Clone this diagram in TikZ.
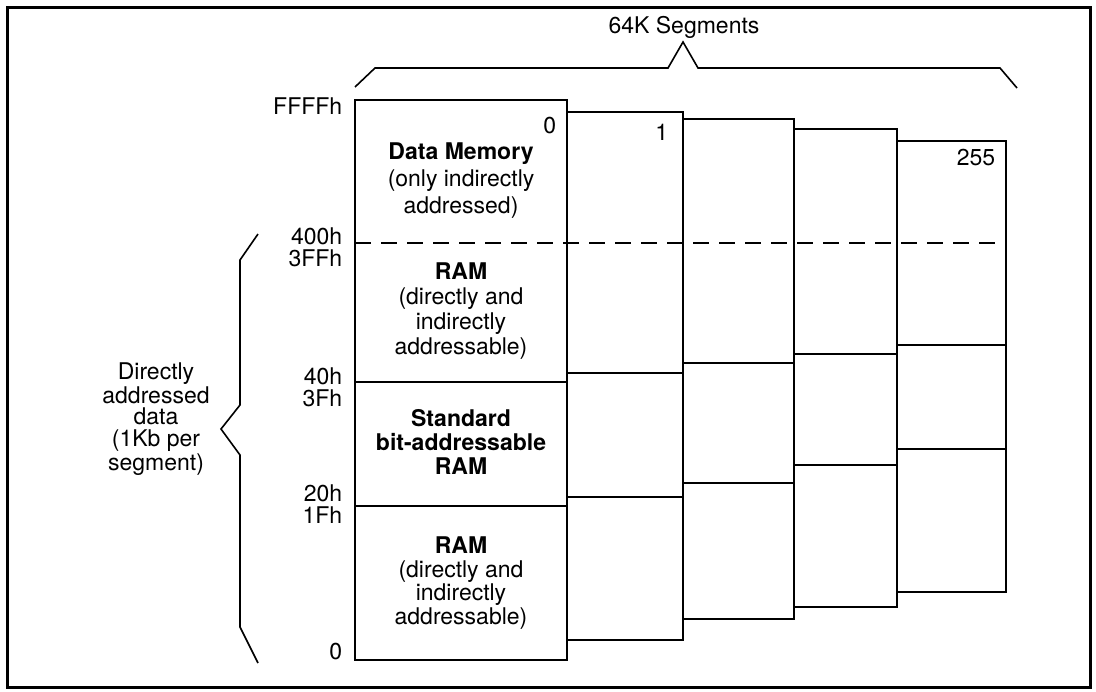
\documentclass[tikz,border=0pt]{standalone}
\usepackage{fontspec}
\setmainfont{TeX Gyre Heros}
\usetikzlibrary{positioning}

\tikzset{
  addr/.style={anchor=east, inner sep=0pt},
  segno/.style={anchor=east, inner sep=0pt},
  area/.style={align=center, inner sep=0pt, font=\fontsize{11.5}{12.5}\selectfont},
}

\begin{document}
\begin{tikzpicture}[x=0.5pt, y=-0.5pt, line width=0.8pt, font=\fontsize{11.5}{13}\selectfont]

  \useasboundingbox (0,0) rectangle (1096,691);
  \draw [line width=1.5pt] (7,7) rectangle (1090,687);

  % segment 0
  \draw (355,100) rectangle (567,660);
  \draw (355,382) -- (567,382);
  \draw (355,506) -- (567,506);

  % segments 1 .. 255
  \foreach \xa/\xb/\top/\la/\lb/\bot in {567/683/112/373/497/640,
      683/794/119/363/483/619, 794/897/129/354/465/607, 897/1006/141/345/449/592} {
    \draw (\xa,\top) -- (\xb,\top) -- (\xb,\bot) -- (\xa,\bot);
    \draw (\xa,\la) -- (\xb,\la);
    \draw (\xa,\lb) -- (\xb,\lb);
  }

  \draw [dash pattern=on 8pt off 5pt] (355,243) -- (1006,243);

  % braces
  \draw (355,87) -- (375,68) -- (668,68) -- (683,42) -- (698,68) -- (1000,68) -- (1017,88);
  \draw (258,234) -- (240,260) -- (240,405) -- (221,429) -- (240,455) -- (240,627) -- (258,663);

  \node (segs) at (684,27) {64K Segments};
  \node (direct) [align=center, font=\fontsize{11.5}{10.8}\selectfont] at (156,419)
    {Directly\\addressed\\data\\(1Kb per\\segment)};

  % addresses
  \node (aFFFF) [addr] at (343,106) {FFFFh};
  \node (a400) [addr] at (343,236) {400h};
  \node (a3FF) [addr] at (343,258) {3FFh};
  \node (a40) [addr] at (343,376) {40h};
  \node (a3F) [addr] at (343,398) {3Fh};
  \node (a20) [addr] at (343,493) {20h};
  \node (a1F) [addr] at (343,515) {1Fh};
  \node (a0) [addr] at (343,652) {0};

  % segment numbers
  \node (s0) [segno] at (557,126) {0};
  \node (s1) [segno] at (669,132) {1};
  \node (s255) [segno] at (996,158) {255};

  % areas of segment 0
  \node (dmem) [area, font=\fontsize{11.5}{13.5}\selectfont] at (461,181)
    {\textbf{Data Memory}\\(only indirectly\\addressed)};
  \node (ramhi) [area] at (461,311)
    {\textbf{RAM}\\(directly and\\indirectly\\addressable)};
  \node (bitram) [area, font=\fontsize{11.5}{11.8}\selectfont] at (461,442)
    {\textbf{Standard}\\\textbf{bit-addressable}\\\textbf{RAM}};
  \node (ramlo) [area, font=\fontsize{11.5}{11.8}\selectfont] at (461,583)
    {\textbf{RAM}\\(directly and\\indirectly\\addressable)};

\end{tikzpicture}
\end{document}
